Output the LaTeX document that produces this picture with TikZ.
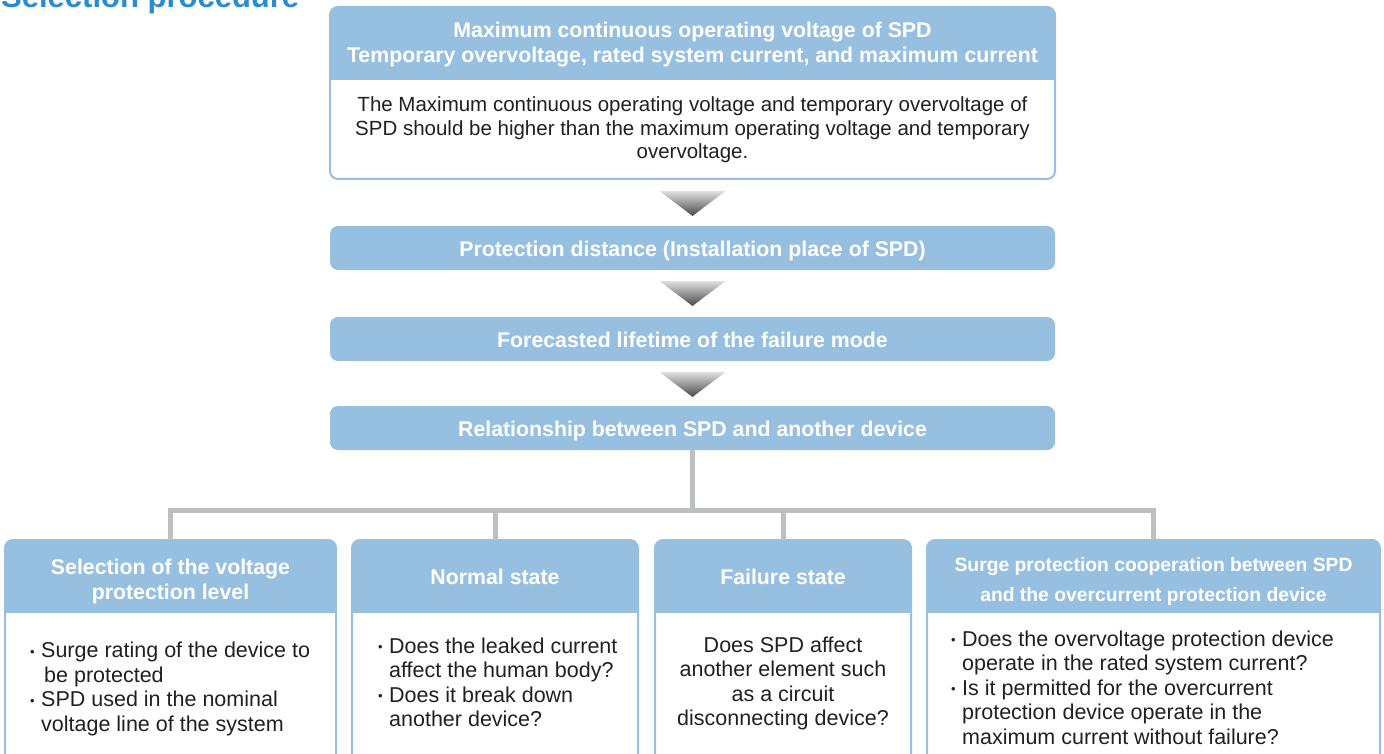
\documentclass[tikz,border=0pt]{standalone}
\usepackage{fontspec}
\setmainfont{Liberation Sans}
\usetikzlibrary{backgrounds, calc}
\definecolor{hdblue}{RGB}{151, 191, 224}
\definecolor{titleblue}{RGB}{42, 140, 206}
\definecolor{linegray}{RGB}{190, 191, 193}
\definecolor{bodytext}{RGB}{35, 31, 32}
\newcommand{\bul}{\makebox[11pt][l]{\raisebox{1.5pt}{\fontsize{13}{13}\selectfont •}}}
\newcommand{\ind}{\hspace*{11pt}}

\begin{document}
\begin{tikzpicture}[x=1pt, y=-1pt,
    card/.style={rectangle, draw=hdblue, line width=2pt, rounded corners=8pt, inner sep=0pt, outer sep=0pt},
    head/.style={inner sep=0pt, text=white, align=center, font=\bfseries\fontsize{21.3}{25}\selectfont},
    bar/.style={rectangle, fill=hdblue, rounded corners=8pt, minimum width=725pt, minimum height=44pt, outer sep=0pt, text height=17pt, text depth=0pt, text=white, font=\bfseries\fontsize{21.3}{25}\selectfont},
    body/.style={inner sep=0pt, text=bodytext, font=\fontsize{21.5}{24.5}\selectfont},
    tri/.style={top color=black!12, bottom color=black!72},
    link/.style={draw=linegray, line width=5pt}
]
    \useasboundingbox (0,0) rectangle (1384,754);
    \clip (0,0) rectangle (1384,754);

    % Title
    \node[anchor=base west, inner sep=0pt, text=titleblue, font=\bfseries\fontsize{31}{31}\selectfont] (title) at (1,8) {Selection procedure};

    % Top box
    \node[card, minimum width=725pt, minimum height=172pt, anchor=north west] (mcov) at (330,7) {};
    \node[head] (mcov-h) at ($(mcov.north)+(0,38)$) {Maximum continuous operating voltage of SPD\\Temporary overvoltage, rated system current, and maximum current};
    \node[body, align=center, font=\fontsize{20.5}{23.5}\selectfont] (mcov-b) at (692.5,130) {The Maximum continuous operating voltage and temporary overvoltage of\\SPD should be higher than the maximum operating voltage and temporary\\overvoltage.};

    % Steps
    \node[bar, anchor=north west] (dist) at (330,226) {Protection distance (Installation place of SPD)};
    \node[bar, anchor=north west] (life) at (330,317) {Forecasted lifetime of the failure mode};
    \node[bar, anchor=north west] (rel) at (330,406) {Relationship between SPD and another device};

    % Arrows
    \shade[tri] ($(mcov.south)+(-33,12)$) -- ($(mcov.south)+(33,12)$) -- ($(dist.north)+(0,-10)$) -- cycle;
    \shade[tri] ($(dist.south)+(-33,11)$) -- ($(dist.south)+(33,11)$) -- ($(life.north)+(0,-11)$) -- cycle;
    \shade[tri] ($(life.south)+(-33,11)$) -- ($(life.south)+(33,11)$) -- ($(rel.north)+(0,-9)$) -- cycle;

    % Bottom boxes
    \node[card, minimum width=331pt, minimum height=240pt, anchor=north west] (selv) at (5,540) {};
    \node[card, minimum width=286pt, minimum height=240pt, anchor=north west] (norm) at (352,540) {};
    \node[card, minimum width=256pt, minimum height=240pt, anchor=north west] (fail) at (655,540) {};
    \node[card, minimum width=453pt, minimum height=240pt, anchor=north west] (coop) at (927,540) {};

    \node[head] (selv-h) at ($(selv.north)+(0,41.5)$) {Selection of the voltage\\protection level};
    \node[head] (norm-h) at ($(norm.north)+(0,36.5)$) {Normal state};
    \node[head] (fail-h) at ($(fail.north)+(0,36.5)$) {Failure state};
    \node[head, font=\bfseries\fontsize{19.3}{30}\selectfont] (coop-h) at ($(coop.north)+(0,41.5)$) {Surge protection cooperation between SPD\\and the overcurrent protection device};

    \node[body, anchor=west, align=left] (selv-b) at (30,689) {\bul Surge rating of the device to\\\ind\hspace*{3pt}be protected\\\bul SPD used in the nominal\\\ind voltage line of the system};
    \node[body, anchor=west, align=left] (norm-b) at (378,682.5) {\bul Does the leaked current\\\ind affect the human body?\\\bul Does it break down\\\ind another device?};
    \node[body, align=center] (fail-b) at (783,683.5) {Does SPD affect\\another element such\\as a circuit\\disconnecting device?};
    \node[body, anchor=west, align=left] (coop-b) at (951,687.5) {\bul Does the overvoltage protection device\\\ind operate in the rated system current?\\\bul Is it permitted for the overcurrent\\\ind protection device operate in the\\\ind maximum current without failure?};

    % Header fills
    \begin{scope}[on background layer]
        \foreach \b in {mcov, selv, norm, fail, coop} {
            \begin{scope}
                \clip[rounded corners=8pt] (\b.north west) rectangle (\b.south east);
                \fill[hdblue] (\b.north west) rectangle ($(\b.north east)+(0,73)$);
            \end{scope}
        }
    \end{scope}

    % Connections
    \coordinate (bus) at (692.5,510);
    \draw[link] (rel.south) -- (bus);
    \draw[link] (selv.north) -- (selv.north |- bus) -- (coop.north |- bus) -- (coop.north);
    \draw[link] (norm.north) -- (norm.north |- bus);
    \draw[link] (fail.north) -- (fail.north |- bus);

\end{tikzpicture}
\end{document}
